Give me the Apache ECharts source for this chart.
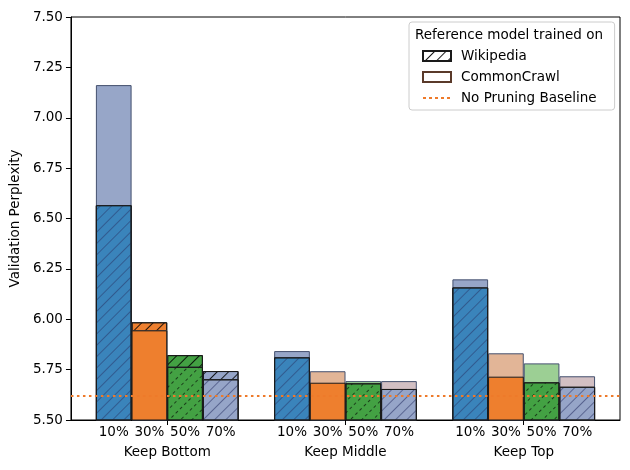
<!DOCTYPE html>
<html>
<head>
<meta charset="utf-8">
<script src="https://cdn.jsdelivr.net/npm/echarts@6.0.0/dist/echarts.min.js"></script>
<style>
html,body{margin:0;padding:0;background:#fff;}
#chart{width:630px;height:470px;}
</style>
</head>
<body>
<div id="chart"></div>
<script>
// ---- data ----
const groups = ['Keep Bottom', 'Keep Middle', 'Keep Top'];
const fractions = ['10%', '30%', '50%', '70%'];
const wikiKeepBottom = [6.566, 5.985, 5.822, 5.743];
const wikiKeepMiddle = [5.811, 5.685, 5.682, 5.654];
const wikiKeepTop    = [6.158, 5.715, 5.687, 5.665];
const ccKeepBottom   = [7.162, 5.945, 5.764, 5.702];
const ccKeepMiddle   = [5.842, 5.742, 5.693, 5.693];
const ccKeepTop      = [6.198, 5.831, 5.781, 5.717];
const baseline = 5.619;

// ---- styling ----
const FONT = 'DejaVu Sans';
const ORANGE_LINE = '#ee7a2a';
const baseColors  = ['#3a84bb', '#ee7f2e', '#43a143', '#96a5c8'];
const lightColors = ['#97a6c8', '#e2b597', '#9ccf94', '#d2bfc3'];
function hatch(color, dashX) {
  return {symbol: 'rect', symbolSize: 1, dashArrayX: dashX || [1, 0], dashArrayY: [1, 7], rotation: -Math.PI / 4, color: color};
}
const frontDecals = [hatch('rgba(40,50,100,0.5)'), null, hatch('rgba(0,0,0,0.6)', [3, 3]), hatch('rgba(40,50,100,0.55)')];
const dottedIcon = 'path://M0,4h3v2h-3z M6,4h3v2h-3z M12,4h3v2h-3z M18,4h3v2h-3z M24,4h3v2h-3z M0,0h0.01v0.01h-0.01z M27.99,9.99h0.01v0.01h-0.01z';

const xMin = -0.54, xMax = 2.54, slot = 0.2;
const wikiAll = [wikiKeepBottom, wikiKeepMiddle, wikiKeepTop];
const ccAll = [ccKeepBottom, ccKeepMiddle, ccKeepTop];
function pos(g, k) { return g + (k - 1.5) * slot; }

const wikiData = [], ccData = [], frontData = [], centers = [];
groups.forEach((name, g) => {
  fractions.forEach((f, k) => {
    const x = pos(g, k), w = wikiAll[g][k], c = ccAll[g][k];
    centers.push(x);
    wikiData.push({value: [x, w], itemStyle: {color: baseColors[k], decal: hatch('rgba(0,0,0,0.85)')}});
    ccData.push({value: [x, c], itemStyle: {color: lightColors[k], borderColor: '#44506e'}});
    const fs = {color: baseColors[k]};
    if (frontDecals[k]) fs.decal = frontDecals[k];
    frontData.push({value: [x, Math.min(w, c)], itemStyle: fs});
  });
});
function centerLabel(v) {
  const i = centers.findIndex(c => Math.abs(c - v) < 1e-6);
  return i >= 0 ? fractions[i % fractions.length] : '';
}
function groupLabel(v) {
  const i = Math.round(v);
  return groups[i] || '';
}

const BAR_W = 35.7;
const chart = echarts.init(document.getElementById('chart'), null, {renderer: 'canvas'});
chart.setOption({
  animation: false,
  textStyle: {fontFamily: FONT},
  title: {
    text: 'Reference model trained on', left: 415, top: 28, padding: 0, z: 10,
    textStyle: {fontFamily: FONT, fontSize: 13.5, fontWeight: 'normal', color: '#000'}
  },
  legend: {
    orient: 'vertical', left: 409, top: 22, padding: [27, 18, 5, 13],
    itemWidth: 28, itemHeight: 10, itemGap: 7,
    borderColor: '#cccccc', borderWidth: 1, borderRadius: 3,
    selectedMode: false,
    textStyle: {fontFamily: FONT, fontSize: 13.5, color: '#000', padding: [0, 0, 0, 5]},
    data: [
      {name: 'Wikipedia', icon: 'rect'},
      {name: 'CommonCrawl', icon: 'rect'},
      {name: 'No Pruning Baseline', icon: dottedIcon, itemStyle: {color: ORANGE_LINE, borderWidth: 0}}
    ]
  },
  grid: {left: 70, top: 17, width: 550, height: 403, show: true, borderColor: '#000', borderWidth: 1, backgroundColor: 'transparent'},
  xAxis: [
    {
      type: 'value', min: xMin, max: xMax,
      axisLine: {show: true, onZero: false, lineStyle: {color: '#000', width: 1}},
      axisTick: {show: true, length: 5, lineStyle: {color: '#000'}, customValues: [0, 1, 2]},
      axisLabel: {customValues: centers, formatter: centerLabel, fontFamily: FONT, fontSize: 13.5, color: '#000', margin: 5},
      splitLine: {show: false}
    },
    {
      type: 'value', min: xMin, max: xMax, position: 'bottom',
      axisLine: {show: false, onZero: false}, axisTick: {show: false},
      axisLabel: {customValues: [0, 1, 2], formatter: groupLabel, fontFamily: FONT, fontSize: 13.5, color: '#000', margin: 25},
      splitLine: {show: false}
    }
  ],
  yAxis: {
    type: 'value', min: 5.5, max: 7.5, interval: 0.25,
    name: 'Validation Perplexity', nameLocation: 'middle', nameGap: 48,
    nameTextStyle: {fontFamily: FONT, fontSize: 13.5, color: '#000'},
    axisLine: {show: true, onZero: false, lineStyle: {color: '#000', width: 1}},
    axisTick: {show: true, length: 5, lineStyle: {color: '#000'}},
    axisLabel: {formatter: v => v.toFixed(2), fontFamily: FONT, fontSize: 13.5, color: '#000', margin: 8},
    splitLine: {show: false}
  },
  series: [
    {
      name: 'Wikipedia', type: 'bar', barWidth: BAR_W, barGap: '-100%', z: 2,
      itemStyle: {color: '#fff', borderColor: '#1a1a1a', borderWidth: 1, decal: hatch('rgba(0,0,0,0.9)')},
      data: wikiData
    },
    {
      name: 'CommonCrawl', type: 'bar', barWidth: BAR_W, barGap: '-100%', z: 2,
      itemStyle: {color: '#fff', borderColor: '#5a3a2a', borderWidth: 1},
      data: ccData
    },
    {
      name: 'front', type: 'bar', barWidth: BAR_W, barGap: '-100%', z: 3,
      itemStyle: {borderColor: '#1a1a1a', borderWidth: 1},
      data: frontData
    },
    {
      name: 'No Pruning Baseline', type: 'line', z: 5, symbol: 'none', showSymbol: false, silent: true,
      lineStyle: {color: ORANGE_LINE, width: 2, type: [2.5, 3.5]},
      itemStyle: {color: ORANGE_LINE},
      data: [[xMin, baseline], [xMax, baseline]]
    }
  ]
});
</script>
</body>
</html>
